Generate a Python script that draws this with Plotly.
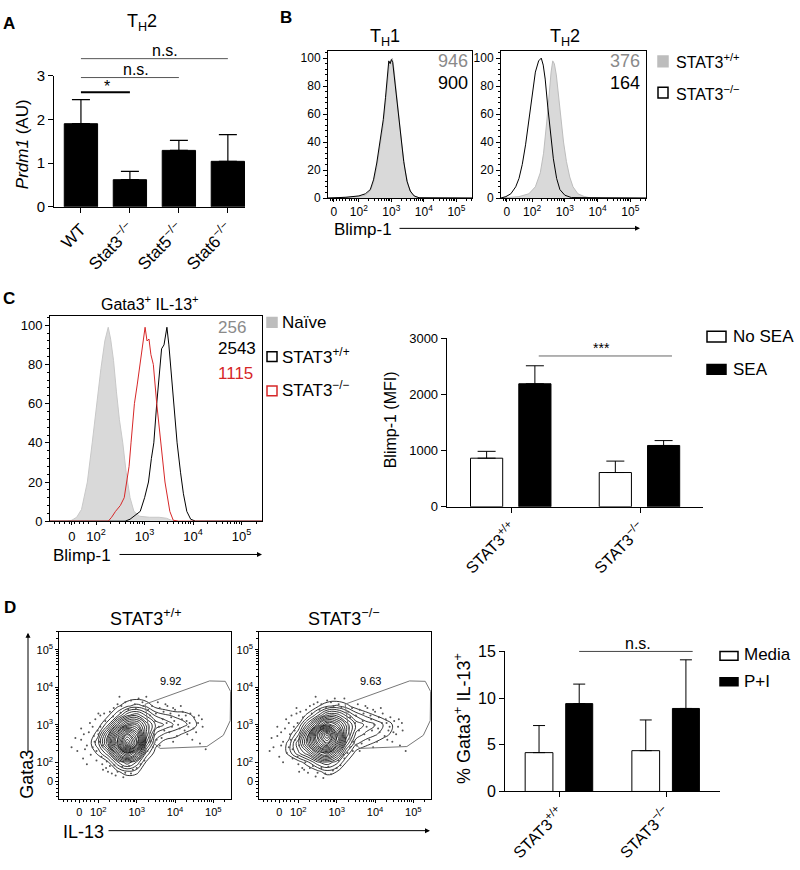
import plotly.graph_objects as go
import math

W, H = 800, 870
FONT = "Liberation Sans, Arial, sans-serif"
GRAY_TXT = "#8a8a8a"
FILL = "#d9d9d9"
RED = "#d62728"

# ---------------- DATA ----------------
# Panel A
a_categories = ["WT", "Stat3<sup>−/−</sup>", "Stat5<sup>−/−</sup>", "Stat6<sup>−/−</sup>"]
a_means = [1.90, 0.62, 1.29, 1.04]
a_sem = [0.55, 0.19, 0.23, 0.61]

# Panel B (x in decades of Blimp-1 fluorescence, y in % of max)
flow_ticktext = ["0", "10<sup>2</sup>", "10<sup>3</sup>", "10<sup>4</sup>", "10<sup>5</sup>"]
b_tickvals = [1.23, 2, 3, 4, 5]
b_th1_wt_x = [1.05, 1.6, 2.0, 2.2, 2.35, 2.45, 2.55, 2.65, 2.75, 2.82, 2.88, 2.93, 2.98, 3.03, 3.08, 3.14, 3.22, 3.32, 3.42, 3.52, 3.62, 3.75, 3.9, 5.48]
b_th1_wt_y = [0, 0.3, 1, 2, 5, 11, 22, 37, 52, 68, 84, 94, 97, 100, 92, 78, 60, 38, 20, 9, 3, 0.8, 0, 0]
b_th1_ko_x = [1.05, 1.6, 2.0, 2.2, 2.35, 2.45, 2.55, 2.65, 2.75, 2.82, 2.88, 2.92, 2.96, 3.0, 3.04, 3.1, 3.18, 3.28, 3.38, 3.48, 3.58, 3.7, 3.85, 5.48]
b_th1_ko_y = [0, 0.5, 1.5, 3, 6, 13, 25, 40, 56, 72, 90, 98, 96, 99, 97, 84, 66, 45, 26, 12, 5, 1.5, 0.2, 0]
b_th2_wt_x = [1.05, 1.6, 1.9, 2.1, 2.25, 2.35, 2.45, 2.52, 2.58, 2.63, 2.68, 2.74, 2.8, 2.88, 2.96, 3.05, 3.15, 3.25, 3.4, 3.6, 3.8, 5.48]
b_th2_wt_y = [0, 1, 3, 8, 18, 32, 55, 75, 90, 98, 96, 88, 74, 56, 40, 26, 15, 8, 3, 1, 0, 0]
b_th2_ko_x = [1.05, 1.2, 1.35, 1.5, 1.6, 1.7, 1.8, 1.9, 2.0, 2.1, 2.2, 2.28, 2.34, 2.4, 2.48, 2.56, 2.65, 2.75, 2.85, 3.0, 3.2, 5.48]
b_th2_ko_y = [0, 1, 3, 8, 14, 24, 38, 56, 75, 90, 98, 100, 95, 85, 65, 45, 28, 14, 6, 2, 0.3, 0]
b_mfi_th1 = ["946", "900"]
b_mfi_th2 = ["376", "164"]

# Panel C histogram
c_tickvals = [1.5, 2, 3, 4, 5]
c_naive_x = [1.05, 1.4, 1.5, 1.6, 1.7, 1.82, 1.92, 2.01, 2.1, 2.18, 2.25, 2.3, 2.36, 2.42, 2.48, 2.55, 2.62, 2.7, 2.78, 2.9, 3.1, 3.3, 3.45, 3.55, 3.7, 5.42]
c_naive_y = [0, 0, 0.5, 2, 6, 20, 40, 60, 78, 92, 99, 93, 82, 66, 52, 40, 25, 12, 5, 2.5, 2, 2, 1.5, 0.5, 0, 0]
c_wt_x = [1.05, 2.6, 2.7, 2.8, 2.91, 3.0, 3.08, 3.14, 3.19, 3.25, 3.3, 3.35, 3.4, 3.46, 3.5, 3.55, 3.6, 3.67, 3.74, 3.8, 3.87, 3.95, 4.05, 5.42]
c_wt_y = [0, 0, 1, 3, 5, 12, 20, 32, 40, 60, 74, 88, 90, 99, 90, 75, 58, 40, 25, 14, 5, 1, 0, 0]
c_ko_x = [1.05, 2.25, 2.32, 2.4, 2.5, 2.58, 2.63, 2.68, 2.72, 2.79, 2.85, 2.91, 2.96, 3.01, 3.05, 3.09, 3.13, 3.18, 3.25, 3.34, 3.42, 3.52, 3.59, 3.7, 5.42]
c_ko_y = [0, 0, 2, 5, 8, 12, 20, 28, 40, 60, 70, 80, 90, 99, 92, 93, 85, 80, 60, 40, 20, 5, 0.5, 0, 0]
c_mfi = ["256", "2543", "1115"]

# Panel C bars
genotypes = ["STAT3<sup>+/+</sup>", "STAT3<sup>−/−</sup>"]
c_nosea = [864, 609]
c_nosea_sem = [122, 203]
c_sea = [2187, 1090]
c_sea_sem = [320, 87]

# Panel D contour (density levels read on a grid, x/y in decades)
d_grid_x = [1.5, 1.75, 2.0, 2.25, 2.5, 2.75, 3.0, 3.25, 3.5, 3.75, 4.0, 4.25, 4.5, 4.75]
d_grid_y = [1.5, 1.75, 2.0, 2.25, 2.5, 2.75, 3.0, 3.25, 3.5, 3.75, 4.0]
d_wt_z = [
    [0, 0, 0, 0, 0, 0, 0, 0, 0, 0, 0, 0, 0, 0],
    [0, 0, 0, 0, 0.5, 1, 0.8, 0, 0, 0, 0, 0, 0, 0],
    [0, 0, 0, 0.5, 2, 3, 2, 0.5, 0, 0, 0, 0, 0, 0],
    [0, 0, 0.8, 2, 5, 7, 5, 1.5, 0.3, 0, 0, 0, 0, 0],
    [0, 0.3, 1.5, 4, 8, 12, 9, 3, 0.8, 0.3, 0.2, 0, 0, 0],
    [0, 0, 1, 3.5, 7, 10, 8, 4, 1.5, 1, 0.8, 0.5, 0.2, 0],
    [0, 0, 0.3, 1.5, 4, 6, 6, 4, 2.5, 2, 1.5, 1.2, 0.8, 0],
    [0, 0, 0, 0.5, 1.5, 3, 3.5, 2.5, 1.5, 1.2, 1, 0.9, 0.5, 0],
    [0, 0, 0, 0, 0.5, 1, 1.3, 1, 0.4, 0.2, 0, 0, 0, 0],
    [0, 0, 0, 0, 0, 0.2, 0.3, 0.2, 0, 0, 0, 0, 0, 0],
    [0, 0, 0, 0, 0, 0, 0, 0, 0, 0, 0, 0, 0, 0],
]
d_ko_z = [
    [0, 0, 0, 0, 0, 0, 0, 0, 0, 0, 0, 0, 0, 0],
    [0, 0, 0, 0, 0.4, 0.9, 0.6, 0, 0, 0, 0, 0, 0, 0],
    [0, 0, 0.3, 1, 2, 2.5, 1.8, 0.6, 0, 0, 0, 0, 0, 0],
    [0, 0.8, 2, 3, 5, 6, 4, 1.5, 0.4, 0.1, 0, 0, 0, 0],
    [0, 0.8, 2.5, 5, 8, 10, 7, 3, 1.2, 0.8, 0.5, 0.2, 0, 0],
    [0, 0.3, 1.5, 4.5, 9, 12, 8, 4, 2, 1.5, 1.2, 0.8, 0.4, 0],
    [0, 0, 0.6, 2.5, 5, 7, 6, 4, 2.5, 2, 1.6, 1, 0.5, 0],
    [0, 0, 0.1, 0.8, 2, 3.5, 3.5, 2.5, 1.5, 1, 0.6, 0.3, 0, 0],
    [0, 0, 0, 0, 0.5, 1, 1.2, 0.8, 0.3, 0, 0, 0, 0, 0],
    [0, 0, 0, 0, 0, 0, 0, 0, 0, 0, 0, 0, 0, 0],
    [0, 0, 0, 0, 0, 0, 0, 0, 0, 0, 0, 0, 0, 0],
]
d_tickvals = [1.5, 2, 3, 4, 5]
d_gate_x = [3.22, 4.90, 5.31, 5.45, 5.44, 5.26, 4.83, 3.61, 3.35, 3.22]
d_gate_y = [3.55, 4.17, 4.16, 3.89, 3.11, 2.72, 2.42, 2.37, 2.59, 3.55]
d_pct = ["9.92", "9.63"]
d_wt_dots = [
    (1.45, 2.30), (1.55, 2.60), (1.60, 2.10), (1.70, 2.45), (1.75, 2.80), (1.80, 2.20), (1.85, 2.95), (1.90, 2.55), (1.95, 2.05), (2.00, 2.75),
    (1.65, 2.35), (1.78, 3.05), (1.92, 3.15), (2.05, 3.25), (2.10, 1.95), (2.20, 1.85), (2.30, 3.35), (2.40, 3.45), (2.15, 3.30), (2.25, 1.75),
    (2.35, 1.70), (2.50, 3.55), (2.60, 3.50), (2.70, 3.60), (2.85, 3.65), (2.95, 3.55), (3.05, 3.70), (3.15, 3.60), (3.30, 3.40), (3.40, 3.50),
    (3.50, 3.30), (3.60, 3.45), (3.70, 3.35), (3.80, 3.50), (3.90, 3.20), (4.00, 3.40), (4.10, 3.25), (4.20, 3.35), (4.30, 3.10), (4.40, 3.30),
    (4.50, 3.20), (4.60, 3.05), (4.70, 3.15), (3.45, 2.75), (3.65, 2.65), (3.85, 2.80), (4.05, 2.70), (4.25, 2.85), (4.45, 2.60), (3.55, 3.60),
    (3.75, 3.55), (3.95, 3.45), (4.15, 3.50), (4.35, 2.95), (2.30, 1.90), (2.50, 1.75), (2.70, 1.72), (2.90, 1.80), (3.10, 1.95), (2.45, 1.65),
    (2.65, 1.60), (2.85, 1.70), (3.00, 1.85), (3.20, 2.05), (1.55, 2.90), (1.70, 1.95), (2.00, 3.30), (2.12, 1.80), (4.65, 2.50), (4.80, 2.35),
    (3.35, 2.55), (3.60, 2.45), (1.40, 2.65), (1.30, 2.40), (1.62, 2.75), (3.25, 3.75), (2.55, 3.75), (4.55, 2.80), (3.95, 2.55), (1.85, 2.40),
    (1.88, 2.70), (1.95, 2.30), (2.05, 2.95), (2.08, 2.15), (2.18, 3.10), (2.22, 2.02), (2.38, 3.22), (2.42, 1.92), (2.58, 3.32), (2.62, 1.88),
    (2.78, 3.40), (2.80, 1.90), (2.98, 3.45), (3.08, 2.10), (3.18, 3.50), (3.22, 2.25), (3.35, 3.25), (3.48, 3.10), (3.58, 2.95), (3.68, 3.15),
    (3.78, 3.05), (3.88, 3.30), (3.98, 3.10), (4.08, 3.00), (4.18, 3.15), (4.28, 3.25), (4.38, 3.05), (4.48, 2.90), (3.72, 2.85), (3.92, 2.95),
    (4.12, 2.90), (4.32, 2.75), (3.52, 2.60), (3.42, 2.40), (3.28, 2.30), (4.62, 3.25), (4.72, 2.95), (2.02, 2.55), (1.98, 2.85), (2.12, 2.45),
]
d_ko_dots = [
    (1.35, 2.40), (1.45, 2.70), (1.50, 2.15), (1.60, 2.55), (1.65, 2.90), (1.70, 2.25), (1.75, 3.05), (1.80, 2.60), (1.85, 2.10), (1.90, 2.85),
    (1.55, 2.45), (1.68, 3.15), (1.82, 3.25), (1.95, 3.30), (2.00, 1.95), (2.10, 1.85), (2.20, 3.40), (2.30, 3.50), (2.05, 3.35), (2.15, 1.80),
    (2.25, 1.72), (2.40, 3.55), (2.50, 3.60), (2.60, 3.55), (2.75, 3.65), (2.85, 3.60), (2.95, 3.70), (3.05, 3.55), (3.30, 3.35), (3.40, 3.45),
    (3.50, 3.25), (3.60, 3.40), (3.70, 3.30), (3.80, 3.45), (3.90, 3.15), (4.00, 3.35), (4.10, 3.20), (4.20, 3.30), (4.30, 3.05), (4.40, 3.20),
    (4.50, 3.10), (4.60, 2.95), (4.70, 3.05), (3.45, 2.55), (3.65, 2.50), (3.85, 2.60), (4.05, 2.55), (4.25, 2.70), (4.45, 2.55), (3.55, 3.55),
    (3.75, 3.50), (3.95, 3.40), (4.15, 3.45), (4.35, 2.85), (2.30, 1.85), (2.50, 1.72), (2.70, 1.70), (2.90, 1.78), (3.10, 1.92), (2.45, 1.62),
    (2.65, 1.58), (2.85, 1.68), (3.00, 1.85), (3.20, 2.10), (1.45, 2.95), (1.60, 2.00), (1.95, 3.45), (2.02, 1.75), (4.65, 2.45), (4.80, 2.30),
    (3.35, 2.40), (3.60, 2.30), (1.30, 2.65), (1.25, 2.30), (1.55, 2.80), (3.20, 3.70), (2.45, 3.75), (4.55, 2.75), (3.95, 2.40), (1.75, 2.40),
    (1.78, 2.75), (1.85, 2.35), (1.98, 3.05), (1.98, 2.15), (2.12, 3.20), (2.18, 2.00), (2.35, 3.30), (2.38, 1.90), (2.55, 3.40), (2.60, 1.85),
    (2.72, 3.45), (2.78, 1.88), (2.92, 3.50), (3.05, 2.05), (3.12, 3.45), (3.18, 2.20), (3.35, 3.20), (3.48, 3.05), (3.58, 2.85), (3.68, 3.10),
    (3.78, 2.95), (3.88, 3.25), (3.98, 3.00), (4.08, 2.90), (4.18, 3.05), (4.28, 3.15), (4.38, 2.95), (4.48, 2.80), (3.72, 2.75), (3.92, 2.85),
    (4.12, 2.80), (4.32, 2.60), (3.52, 2.45), (3.42, 2.30), (3.28, 2.25), (4.62, 3.15), (4.72, 2.85), (1.92, 2.60), (1.88, 2.95), (2.02, 2.45),
]

# Panel D bars
d_media = [4.16, 4.37]
d_media_sem = [2.90, 3.29]
d_pi = [9.41, 8.89]
d_pi_sem = [2.09, 5.21]


# ---------------- helpers ----------------
def fx(px):
    return px / W


def fy(py):
    return 1 - py / H


def axis(**kw):
    d = dict(showline=True, linecolor="black", linewidth=1, ticks="outside", tickcolor="black",
             ticklen=4, tickwidth=1, showgrid=False, zeroline=False,
             tickfont=dict(family=FONT, size=12, color="black"))
    d.update(kw)
    return d


def tf(size):
    return dict(family=FONT, size=size, color="black")


log_minor = [d + math.log10(k) for d in (2, 3, 4, 5) for k in range(2, 10)]


def flow_minor(lo, extra):
    return dict(ticks="outside", ticklen=2, tickcolor="black", tickmode="array",
                tickvals=[v for v in extra + log_minor if v >= lo])


fig = go.Figure()

# ---- Panel A ----
fig.add_trace(go.Bar(x=a_categories, y=a_means, marker=dict(color="black", line=dict(color="black", width=1)),
                     width=0.68,
                     error_y=dict(type="data", array=a_sem, arrayminus=[0] * 4, symmetric=False,
                                  color="black", thickness=1.2, width=9),
                     xaxis="x", yaxis="y"))

# ---- Panel B ----
for (xw, yw, xk, yk, ax) in [(b_th1_wt_x, b_th1_wt_y, b_th1_ko_x, b_th1_ko_y, "2"),
                             (b_th2_wt_x, b_th2_wt_y, b_th2_ko_x, b_th2_ko_y, "3")]:
    fig.add_trace(go.Scatter(x=xw, y=yw, mode="lines", fill="tozeroy", fillcolor=FILL,
                             line=dict(color="#bdbdbd", width=1), xaxis="x" + ax, yaxis="y" + ax))
    fig.add_trace(go.Scatter(x=xk, y=yk, mode="lines", line=dict(color="black", width=1),
                             xaxis="x" + ax, yaxis="y" + ax))

# ---- Panel C histogram ----
fig.add_trace(go.Scatter(x=c_naive_x, y=c_naive_y, mode="lines", fill="tozeroy", fillcolor=FILL,
                         line=dict(color="#c8c8c8", width=1), xaxis="x4", yaxis="y4"))
fig.add_trace(go.Scatter(x=c_wt_x, y=c_wt_y, mode="lines", line=dict(color="black", width=1),
                         xaxis="x4", yaxis="y4"))
fig.add_trace(go.Scatter(x=c_ko_x, y=c_ko_y, mode="lines", line=dict(color=RED, width=1),
                         xaxis="x4", yaxis="y4"))

# ---- Panel C bars ----
fig.add_trace(go.Bar(x=genotypes, y=c_nosea, width=0.25, offset=-0.32,
                     marker=dict(color="white", line=dict(color="black", width=1)),
                     error_y=dict(type="data", array=c_nosea_sem, arrayminus=[0, 0], symmetric=False,
                                  color="black", thickness=1, width=9),
                     xaxis="x5", yaxis="y5"))
fig.add_trace(go.Bar(x=genotypes, y=c_sea, width=0.25, offset=0.055,
                     marker=dict(color="black", line=dict(color="black", width=1)),
                     error_y=dict(type="data", array=c_sea_sem, arrayminus=[0, 0], symmetric=False,
                                  color="black", thickness=1, width=9),
                     xaxis="x5", yaxis="y5"))

# ---- Panel D contour plots ----
for z, dots, ax in [(d_wt_z, d_wt_dots, "6"), (d_ko_z, d_ko_dots, "7")]:
    fig.add_trace(go.Scatter(x=[p[0] for p in dots], y=[p[1] for p in dots], mode="markers",
                             marker=dict(size=2, color="#555555"), xaxis="x" + ax, yaxis="y" + ax))
    fig.add_trace(go.Contour(x=d_grid_x, y=d_grid_y, z=z, showscale=False,
                             contours=dict(coloring="lines", start=0.6, end=12, size=0.5),
                             colorscale=[[0, "black"], [1, "black"]],
                             line=dict(width=0.8, smoothing=1.3), xaxis="x" + ax, yaxis="y" + ax))
    fig.add_trace(go.Scatter(x=d_gate_x, y=d_gate_y, mode="lines", line=dict(color="#777777", width=1),
                             xaxis="x" + ax, yaxis="y" + ax))

# ---- Panel D bars ----
fig.add_trace(go.Bar(x=genotypes, y=d_media, width=0.26, offset=-0.32,
                     marker=dict(color="white", line=dict(color="black", width=1)),
                     error_y=dict(type="data", array=d_media_sem, arrayminus=[0, 0], symmetric=False,
                                  color="black", thickness=1, width=6),
                     xaxis="x8", yaxis="y8"))
fig.add_trace(go.Bar(x=genotypes, y=d_pi, width=0.253, offset=0.06,
                     marker=dict(color="black", line=dict(color="black", width=1)),
                     error_y=dict(type="data", array=d_pi_sem, arrayminus=[0, 0], symmetric=False,
                                  color="black", thickness=1, width=6),
                     xaxis="x8", yaxis="y8"))

# ---------------- LAYOUT ----------------
lay = dict(width=W, height=H, margin=dict(l=0, r=0, t=0, b=0), paper_bgcolor="white", plot_bgcolor="white",
           showlegend=False, barmode="group", font=dict(family=FONT, color="black"))

# A
lay["xaxis"] = axis(domain=[fx(54), fx(245)], range=[-0.55, 3.35], anchor="y", tickangle=-45,
                    tickfont=tf(17), ticklen=5)
lay["yaxis"] = axis(domain=[fy(202), fy(68)], range=[0, 3], dtick=1, anchor="x",
                    tickfont=tf(15), ticklen=5)

# B
b_minor = flow_minor(1.06, [1.12, 1.18, 1.30, 1.40, 1.50, 1.60, 1.70, 1.78, 1.85, 1.92])
for ax, (l, r) in [("2", (328, 472)), ("3", (501, 646))]:
    lay["xaxis" + ax] = axis(domain=[fx(l), fx(r)], range=[1.05, 5.48], anchor="y" + ax, mirror=True,
                             tickmode="array", tickvals=b_tickvals, ticktext=flow_ticktext, minor=b_minor,
                             tickfont=tf(12), ticklen=3)
    lay["yaxis" + ax] = axis(domain=[fy(193), fy(43)], range=[0, 105], anchor="x" + ax, mirror=True,
                             tickmode="array", tickvals=[0, 20, 40, 60, 80, 100],
                             minor=dict(ticks="outside", ticklen=2, dtick=4, tickcolor="black"),
                             tickfont=tf(12))

# C histogram
c_minor = flow_minor(1.06, [1.15, 1.25, 1.35, 1.45, 1.55, 1.65, 1.75, 1.85])
lay["xaxis4"] = axis(domain=[fx(50), fx(262)], range=[1.05, 5.42], anchor="y4", mirror=True,
                     tickmode="array", tickvals=c_tickvals, ticktext=flow_ticktext, minor=c_minor,
                     tickfont=tf(13), ticklen=3)
lay["yaxis4"] = axis(domain=[fy(523), fy(313)], range=[0, 105], anchor="x4", mirror=True,
                     tickmode="array", tickvals=[0, 20, 40, 60, 80, 100],
                     minor=dict(ticks="outside", ticklen=2, dtick=4, tickcolor="black"),
                     tickfont=tf(13))

# C bars
lay["xaxis5"] = axis(domain=[fx(446.7), fx(703)], range=[-0.505, 1.486], anchor="y5", tickangle=-45,
                     tickfont=tf(16), ticklen=5)
lay["yaxis5"] = axis(domain=[fy(508.3), fy(336)], range=[0, 3000], dtick=1000, anchor="x5",
                     tickfont=tf(13), ticklen=5)

# D contours
d_minor = flow_minor(1.0, [1.1, 1.2, 1.3, 1.4, 1.6, 1.7, 1.8, 1.9])
for ax, (l, r) in [("6", (59.3, 231)), ("7", (259.3, 431))]:
    lay["xaxis" + ax] = axis(domain=[fx(l), fx(r)], range=[0.98, 5.46], anchor="y" + ax, mirror=True,
                             tickmode="array", tickvals=d_tickvals, ticktext=flow_ticktext, minor=d_minor,
                             tickfont=tf(11), ticklen=3)
    lay["yaxis" + ax] = axis(domain=[fy(806.7), fy(636)], range=[1.02, 5.48], anchor="x" + ax, mirror=True,
                             tickmode="array", tickvals=d_tickvals, ticktext=flow_ticktext, minor=d_minor,
                             tickfont=tf(11), ticklen=3)

# D bars
lay["xaxis8"] = axis(domain=[fx(505), fx(720)], range=[-0.509, 1.506], anchor="y8", tickangle=-45,
                     tickfont=tf(16), ticklen=5)
lay["yaxis8"] = axis(domain=[fy(799), fy(656)], range=[0, 15], dtick=5, anchor="x8",
                     tickfont=tf(16), ticklen=5)

fig.update_layout(**lay)

# ---------------- annotations & shapes ----------------
ann = []
shapes = []


def txt(x, y, s, size=14, color="black", xanchor="center", yanchor="middle", xref="paper", yref="paper",
        angle=0, bold=False):
    if bold:
        s = "<b>" + s + "</b>"
    ann.append(dict(x=x, y=y, text=s, xref=xref, yref=yref, showarrow=False, xanchor=xanchor,
                    yanchor=yanchor, textangle=angle, font=dict(family=FONT, size=size, color=color)))


def hline(x0, x1, y, xref="paper", color="black", width=1):
    shapes.append(dict(type="line", x0=x0, x1=x1, y0=y, y1=y, xref=xref, yref="paper",
                       line=dict(color=color, width=width)))


def arrow(x_head, y_head, dx, dy):
    ann.append(dict(x=x_head, y=y_head, xref="paper", yref="paper", ax=dx, ay=dy, axref="pixel",
                    ayref="pixel", text="", showarrow=True, arrowhead=2, arrowsize=1, arrowwidth=1,
                    arrowcolor="black"))


def square(x0, y0, x1, y1, fill, line):
    shapes.append(dict(type="rect", x0=fx(x0), x1=fx(x1), y0=fy(y1), y1=fy(y0), xref="paper", yref="paper",
                       fillcolor=fill, line=dict(color=line, width=1.5)))


# Panel letters
txt(fx(9), fy(15), "A", 17, bold=True)
txt(fx(286), fy(9), "B", 17, bold=True)
txt(fx(9), fy(296), "C", 17, bold=True)
txt(fx(10), fy(611), "D", 17, bold=True)

# A
txt(fx(142), fy(14), "T<sub>H</sub>2", 18)
txt(fx(22), fy(138), "<i>Prdm1</i> (AU)", 17, angle=-90)
hline(0, 1, fy(85), xref="x", width=2)
hline(0, 2, fy(70), xref="x", color="#555555")
hline(0, 3, fy(50.7), xref="x", color="#555555")
txt(0.53, fy(79), "*", 16, xref="x")
txt(1.13, fy(62), "n.s.", 16, xref="x")
txt(1.71, fy(42), "n.s.", 16, xref="x")

# B
txt(fx(385), fy(29), "T<sub>H</sub>1", 18)
txt(fx(565), fy(29), "T<sub>H</sub>2", 18)
txt(fx(470), fy(53), b_mfi_th1[0], 18, color=GRAY_TXT, xanchor="right")
txt(fx(470), fy(76), b_mfi_th1[1], 18, xanchor="right")
txt(fx(642), fy(53), b_mfi_th2[0], 18, color=GRAY_TXT, xanchor="right")
txt(fx(642), fy(76), b_mfi_th2[1], 18, xanchor="right")
square(658, 48, 668, 59, "#bdbdbd", "#bdbdbd")
square(658, 80, 668, 91, "white", "black")
txt(fx(674), fy(53), "STAT3<sup>+/+</sup>", 16, xanchor="left")
txt(fx(674), fy(86), "STAT3<sup>−/−</sup>", 16, xanchor="left")
txt(fx(363), fy(225), "Blimp-1", 17)
arrow(fx(640), fy(224), -242, 0)

# C histogram
txt(fx(150), fy(300), "Gata3<sup>+</sup> IL-13<sup>+</sup>", 16)
txt(fx(216), fy(325), c_mfi[0], 17, color=GRAY_TXT, xanchor="left")
txt(fx(216), fy(347), c_mfi[1], 17, xanchor="left")
txt(fx(216), fy(372), c_mfi[2], 17, color=RED, xanchor="left")
square(267, 315, 277, 325, "#bdbdbd", "#bdbdbd")
square(267, 350, 277, 360, "white", "black")
square(267, 385, 277, 395, "white", RED)
txt(fx(280), fy(320), "Naïve", 17, xanchor="left")
txt(fx(280), fy(354), "STAT3<sup>+/+</sup>", 17, xanchor="left")
txt(fx(280), fy(388), "STAT3<sup>−/−</sup>", 17, xanchor="left")
txt(fx(82), fy(558), "Blimp-1", 17)
arrow(fx(262), fy(557), -144, 0)

# C bars
txt(fx(390), fy(420), "Blimp-1 (MFI)", 16, angle=-90)
hline(0.21, 1.245, fy(354.3), xref="x5", color="#666666")
txt(0.70, fy(346), "***", 14, xref="x5")
square(707, 329, 726, 340, "white", "black")
square(707, 363, 726, 373, "black", "black")
txt(fx(731), fy(334), "No SEA", 17, xanchor="left")
txt(fx(731), fy(368), "SEA", 17, xanchor="left")

# D contour
txt(fx(146), fy(621), "STAT3<sup>+/+</sup>", 18)
txt(fx(344), fy(621), "STAT3<sup>−/−</sup>", 18)
txt(3.88, 4.16, d_pct[0], 11, xref="x6", yref="y6")
txt(3.87, 4.16, d_pct[1], 11, xref="x7", yref="y7")
txt(fx(27), fy(782), "Gata3", 18, angle=-90)
arrow(fx(28), fy(637), 0, 120)
txt(fx(83), fy(840), "IL-13", 18)
arrow(fx(430), fy(839), -323, 0)

# D bars
txt(fx(462), fy(725), "% Gata3<sup>+</sup> IL-13<sup>+</sup>", 18, angle=-90)
hline(0.186, 1.25, fy(656), xref="x8", color="#444444")
txt(0.735, fy(648), "n.s.", 16, xref="x8")
square(720, 656, 738, 665, "white", "black")
square(720, 683, 738, 691, "black", "black")
txt(fx(742), fy(659), "Media", 17, xanchor="left")
txt(fx(742), fy(687), "P+I", 17, xanchor="left")

fig.update_layout(annotations=ann, shapes=shapes)
fig.write_html("out.html", config={"displayModeBar": False, "staticPlot": True})

# remove the default page margin so the 800x870 figure fills the window exactly
with open("out.html", encoding="utf-8") as fh:
    page = fh.read()
page = page.replace("<head>", "<head><style>html,body{margin:0;padding:0;overflow:hidden;}</style>", 1)
with open("out.html", "w", encoding="utf-8") as fh:
    fh.write(page)
